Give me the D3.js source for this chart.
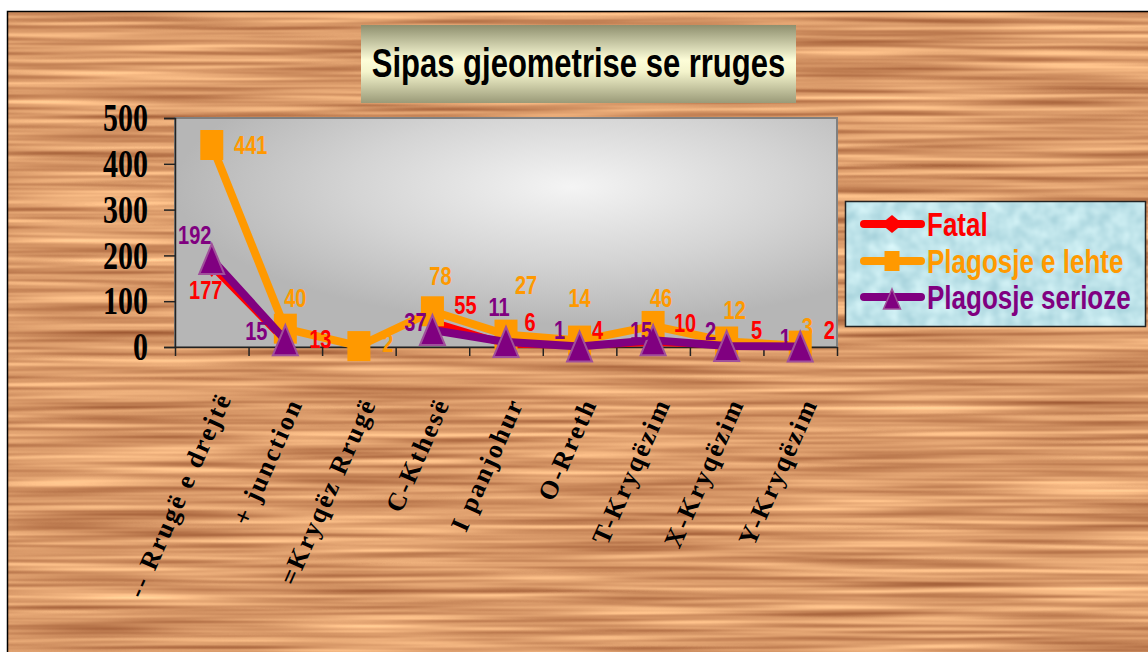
<!DOCTYPE html>
<html><head><meta charset="utf-8">
<script src="https://cdn.jsdelivr.net/npm/d3@7"></script>
<style>body{margin:0;background:#fff;overflow:hidden} svg{display:block}</style>
</head><body>
<script>
// ---------- data ----------
const categories = ["-- Rrugë e drejtë","+ junction","=Kryqëz Rrugë","C-Kthesë","I panjohur","O-Rreth","T-Kryqëzim","X-Kryqëzim","Y-Kryqëzim"];
const fatal   = [177, 13, null, 55, 6, 4, 10, 5, 2];
const lehte   = [441, 40, 2, 78, 27, 14, 46, 12, 3];
const serioze = [192, 15, null, 37, 11, 1, 15, 2, 1];
const yTicks  = [0, 100, 200, 300, 400, 500];
const seriesNames = ["Fatal", "Plagosje e lehte", "Plagosje serioze"];
const titleText = "Sipas gjeometrise se rruges";

// label offsets (label centre relative to its point)
const fatalLabelOff   = [[-6,24],[35,-2],null,[33,-17],[24,-23],[18,-16],[32,-20],[30,-15],[29,-16]];
const lehteLabelOff   = [[39,0],[10,-31],[29,-3],[8,-36],[20,-50],[0,-43],[8,-28],[8,-32],[7,-19]];
const seriozeLabelOff = [[-17,-24],[-29,-10],null,[-17,-8],[-7,-35],[-20,-17],[-12,-10],[-16,-15],[-15,-9]];

// ---------- layout ----------
const W = 1148, H = 652, SY = 1.3;
const plot = {l:175, r:837, t:118, b:347};

const svg = d3.select("body").append("svg").attr("width", W).attr("height", H);
const defs = svg.append("defs");

// wood texture
const wf = defs.append("filter").attr("id","wood").attr("x",0).attr("y",0).attr("width","100%").attr("height","100%")
  .attr("color-interpolation-filters","sRGB");
wf.append("feTurbulence").attr("type","fractalNoise").attr("baseFrequency","0.004 0.16").attr("numOctaves",2).attr("seed",5);
wf.append("feColorMatrix").attr("type","matrix").attr("values",
  "0.55 0 0 0 0.575  0.6 0 0 0 0.30  0.5 0 0 0 0.16  0 0 0 0 1");

// legend texture
const lf = defs.append("filter").attr("id","ice").attr("x",0).attr("y",0).attr("width","100%").attr("height","100%")
  .attr("color-interpolation-filters","sRGB");
lf.append("feTurbulence").attr("type","fractalNoise").attr("baseFrequency","0.07").attr("numOctaves",2).attr("seed",3);
lf.append("feColorMatrix").attr("type","matrix").attr("values",
  "0.25 0 0 0 0.62  0.18 0 0 0 0.80  0.15 0 0 0 0.84  0 0 0 0 1");

// plot gradient
const pg = defs.append("radialGradient").attr("id","plotg").attr("cx","0.6").attr("cy","0.3").attr("r","0.6");
pg.append("stop").attr("offset","0").attr("stop-color","#f4f4f4");
pg.append("stop").attr("offset","0.55").attr("stop-color","#d4d4d4");
pg.append("stop").attr("offset","1").attr("stop-color","#b6b6b6");

// title gradient
const tg = defs.append("linearGradient").attr("id","titleg").attr("x1",0).attr("y1",0).attr("x2",0).attr("y2",1);
tg.append("stop").attr("offset","0").attr("stop-color","#8e8f6e");
tg.append("stop").attr("offset","0.45").attr("stop-color","#fdfdd8");
tg.append("stop").attr("offset","0.6").attr("stop-color","#f4f4cc");
tg.append("stop").attr("offset","1").attr("stop-color","#9a9a78");

// clip for category labels
defs.append("clipPath").attr("id","labclip").append("rect").attr("x",0).attr("y",392).attr("width",W).attr("height",H-392);

// background
svg.append("rect").attr("x",7).attr("y",11).attr("width",W-7).attr("height",H-11).attr("filter","url(#wood)");
svg.append("path").attr("d",`M7.5,${H} V11.5 H${W}`).attr("fill","none").attr("stroke","#000").attr("stroke-width",1.5);

// helper: vertically stretched text
function sText(parent, x, y, str, o) {
  const sy = o.sy == null ? SY : o.sy;
  const g = parent.append("g").attr("transform", `translate(${x},${y}) scale(1,${sy})` + (o.rotate ? ` rotate(${o.rotate})` : ""));
  return g.append("text").text(str)
    .attr("font-family", o.family || "'Liberation Sans', Arial, sans-serif")
    .attr("font-weight", "bold")
    .attr("font-size", o.size)
    .attr("fill", o.fill || "#000")
    .attr("text-anchor", o.anchor || "start")
    .attr("dy", o.dy || "0.36em")
    .attr("letter-spacing", o.ls || 0);
}

// title box
svg.append("rect").attr("x",361).attr("y",25).attr("width",435).attr("height",78).attr("fill","url(#titleg)");
sText(svg, 578.5, 62, titleText, {size:31, anchor:"middle"});

// plot area
svg.append("rect").attr("x",plot.l).attr("y",plot.t).attr("width",plot.r-plot.l).attr("height",plot.b-plot.t)
  .attr("fill","url(#plotg)").attr("stroke","#808080").attr("stroke-width",2);

// scales
const x = d3.scaleBand().domain(categories).range([plot.l, plot.r]);
const cx = c => x(c) + x.bandwidth()/2;
const y = d3.scaleLinear().domain([0, 500]).range([plot.b, plot.t]);
const xb = d3.scaleLinear().domain([0, categories.length]).range([plot.l, plot.r]);

// axes
const yAx = svg.append("g").attr("transform",`translate(${plot.l},0)`)
  .call(d3.axisLeft(y).tickValues(yTicks).tickSize(11).tickFormat(""));
yAx.selectAll("path,line").attr("stroke","#222").attr("stroke-width",1.5);
yTicks.forEach(v => sText(svg, 148, y(v), String(v), {size:30, anchor:"end", family:"'Liberation Serif','Times New Roman',serif", dy:"0.34em"}));

const xAx = svg.append("g").attr("transform",`translate(0,${plot.b})`)
  .call(d3.axisBottom(xb).tickValues(d3.range(0, categories.length+1)).tickSize(9).tickFormat("").tickSizeOuter(0));
xAx.selectAll("path,line").attr("stroke","#222").attr("stroke-width",1.5);

// category labels
const labG = svg.append("g").attr("clip-path","url(#labclip)");
const maxLen = 215;
categories.forEach(c => {
  const t = sText(labG, cx(c)+18, 403, c, {size:26, anchor:"end", rotate:-66, dy:"0", ls:2.2, sy:1,
     family:"'Liberation Serif','Times New Roman',serif"});
  const len = t.node().getComputedTextLength();
  if (len > maxLen) t.attr("text-anchor","start").attr("x", -maxLen);
});

// series
const series = [
  {name:seriesNames[0], vals:fatal,   color:"#ff0000", width:7, marker:"diamond", off:fatalLabelOff},
  {name:seriesNames[1], vals:lehte,   color:"#ff9900", width:8, marker:"square",  off:lehteLabelOff},
  {name:seriesNames[2], vals:serioze, color:"#800080", width:8, marker:"triangle",off:seriozeLabelOff}
];

function markerPath(type, w, h) {
  if (type === "diamond") return `M0,${-h/2} L${w/2},0 L0,${h/2} L${-w/2},0 Z`;
  if (type === "square") return `M${-w/2},${-h/2} H${w/2} V${h/2} H${-w/2} Z`;
  return `M0,${-h/2} L${w/2},${h/2} L${-w/2},${h/2} Z`;
}
const mSize = {diamond:[17,22], square:[23,30], triangle:[25,30]};

const line = d3.line().defined(d => d.v != null).x(d => cx(d.c)).y(d => y(d.v));
series.forEach(s => {
  const pts = categories.map((c,i) => ({c, v:s.vals[i]}));
  svg.append("path").datum(pts).attr("d", line).attr("fill","none")
    .attr("stroke", s.color).attr("stroke-width", s.width).attr("stroke-linejoin","round");
  const [mw, mh] = mSize[s.marker];
  svg.append("g").selectAll("path").data(pts.filter(d => d.v != null)).join("path")
    .attr("transform", d => `translate(${cx(d.c)},${y(d.v)})`)
    .attr("d", markerPath(s.marker, mw, mh))
    .attr("fill", s.color)
    .attr("stroke", s.marker === "triangle" ? "#a0509a" : "none")
    .attr("stroke-width", 2);
});

// data labels
const dlG = svg.append("g");
series.forEach(s => {
  categories.forEach((c,i) => {
    const v = s.vals[i];
    if (v == null || !s.off[i]) return;
    sText(dlG, cx(c) + s.off[i][0], y(v) + s.off[i][1], String(v), {size:20, anchor:"middle", fill:s.color});
  });
});

// legend
const lg = svg.append("g");
lg.append("rect").attr("x",845).attr("y",201).attr("width",301).attr("height",126).attr("filter","url(#ice)");
lg.append("rect").attr("x",845.5).attr("y",201.5).attr("width",300).attr("height",125)
  .attr("fill","none").attr("stroke","#222").attr("stroke-width",1.5);
const legY = [224, 261, 297];
const legM = {diamond:[22,18], square:[15,20], triangle:[17,20]};
series.forEach((s,i) => {
  const ly = legY[i];
  lg.append("line").attr("x1",864).attr("x2",921).attr("y1",ly).attr("y2",ly)
    .attr("stroke", s.color).attr("stroke-width",8).attr("stroke-linecap","round");
  const [mw, mh] = legM[s.marker];
  lg.append("path").attr("transform",`translate(892,${ly + (s.marker==="triangle"?2:0)})`)
    .attr("d", markerPath(s.marker, mw, mh)).attr("fill", s.color)
    .attr("stroke", s.marker === "triangle" ? "#a0509a" : "none").attr("stroke-width",1.5);
  sText(lg, 927, ly, s.name, {size:26, fill:s.color});
});
</script>
</body></html>
